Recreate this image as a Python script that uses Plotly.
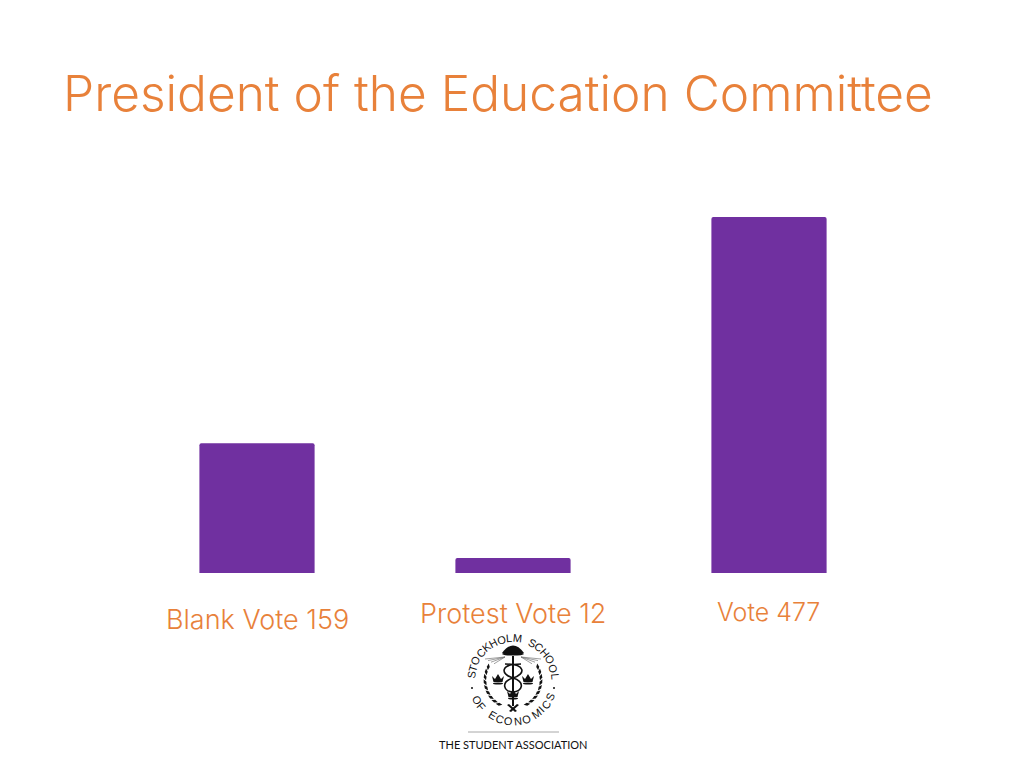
import math
import plotly.graph_objects as go

categories = ["Blank Vote 159", "Protest Vote 12", "Vote 477"]
# Bar lengths as drawn in the picture (they are not strictly proportional to the labels)
drawn_heights = [174, 20, 477]
label_y_px = [619, 613, 612]
label_x_px = [257, 513, 768]
label_sizes = [27, 27, 25]

ORANGE = "#E8813A"
PURPLE = "#7030A0"
FONT = "Inter"
W, H = 1024, 768


def px(x):
    return x / W


def py(y):
    return 1 - y / H


fig = go.Figure(go.Bar(
    x=categories, y=drawn_heights, width=0.45,
    marker=dict(color=PURPLE, cornerradius=2, line=dict(width=0)),
    hoverinfo="skip",
))

ann = [dict(text="President of the Education Committee", x=px(61), y=py(93), xref="paper", yref="paper",
            xanchor="left", yanchor="middle", showarrow=False,
            font=dict(family=FONT, size=49.6, weight=300, color=ORANGE))]
for c, lx, ly, ls in zip(categories, label_x_px, label_y_px, label_sizes):
    ann.append(dict(text=c, x=px(lx), y=py(ly), xref="paper", yref="paper", showarrow=False,
                    xanchor="center", yanchor="middle",
                    font=dict(family=FONT, size=ls, weight=300, color=ORANGE)))

# ---- logo ----
cx, cy = 513, 680
NARROW = {"I": 0.45, "M": 1.35, "O": 1.2, "C": 1.1, "H": 1.1, "N": 1.1, " ": 0.8, "L": 0.85, "F": 0.85, "E": 0.9, "T": 0.9}


def arc_text(text, start, end, radius, bottom=False):
    weights = [NARROW.get(ch, 1.0) for ch in text]
    total = sum(weights) - (weights[0] + weights[-1]) / 2
    run = 0.0
    for i, ch in enumerate(text):
        if i:
            run += (weights[i - 1] + weights[i]) / 2
        a = start + (end - start) * run / total
        r = math.radians(a)
        x = cx + radius * math.sin(r)
        y = cy - radius * math.cos(r)
        rot = a - 180 if bottom else a
        ann.append(dict(text=ch, x=px(x), y=py(y), xref="paper", yref="paper", showarrow=False,
                        textangle=rot, font=dict(family="Liberation Sans", size=11, color="#111"),
                        xanchor="center", yanchor="middle"))


arc_text("STOCKHOLM SCHOOL", -83, 85, 42)
arc_text("OF ECONOMICS", -119, -245, 41, bottom=True)
ann.append(dict(text="THE STUDENT ASSOCIATION", x=px(513), y=py(744), xref="paper", yref="paper",
                showarrow=False, xanchor="center", yanchor="middle",
                font=dict(family="Lato", size=11, color="#111")))

shapes = [dict(type="line", x0=px(468), x1=px(559), y0=py(732), y1=py(732), xref="paper", yref="paper",
               line=dict(color="#A8A8A8", width=1))]


def path(d, fill="#111", line=0):
    shapes.append(dict(type="path", path=d, xref="paper", yref="paper", fillcolor=fill,
                       line=dict(color="#111", width=line)))


def P(x, y):
    return f"{px(x):.5f},{py(y):.5f}"


def ell(x, y, rx, ry):
    shapes.append(dict(type="circle", xref="paper", yref="paper", x0=px(x - rx), x1=px(x + rx),
                       y0=py(y + ry), y1=py(y - ry), fillcolor="#111", line=dict(width=0)))


def leaf(x, y, ang, ln=3.4, wd=1.5):
    t = math.radians(ang)
    ux, uy = math.cos(t), math.sin(t)
    vx, vy = -uy, ux
    path(f"M{P(x - ln * ux, y - ln * uy)} L{P(x + wd * vx, y + wd * vy)} L{P(x + ln * ux, y + ln * uy)} L{P(x - wd * vx, y - wd * vy)} Z")


# dots on the ring
ell(472, 688, 1, 1)
ell(554, 688, 1, 1)
# dome
path(f"M{P(502, 653)} Q{P(513, 638)} {P(524, 653)} Z")
ell(513, 654, 11, 1.6)
# wing rays
for dx in (-1, 1):
    for k in range(4):
        shapes.append(dict(type="line", xref="paper", yref="paper",
                           x0=px(513 + dx * 8), y0=py(657),
                           x1=px(513 + dx * (28 - k * 3)), y1=py(659 + k * 1.6),
                           line=dict(color="#777", width=0.7)))
# wreath
for side in (-1, 1):
    for a in range(62, 160, 11):
        r = math.radians(a)
        x = cx + side * 28 * math.sin(r)
        y = cy - 28 * math.cos(r)
        leaf(x, y, side * a + (20 if side > 0 else -20))
# crowns
for x, y in ((498, 680), (528, 680), (513, 695)):
    path(f"M{P(x - 6, y - 4)} L{P(x - 3, y - 1)} L{P(x, y - 6)} L{P(x + 3, y - 1)} L{P(x + 6, y - 4)} L{P(x + 4.5, y + 2)} L{P(x - 4.5, y + 2)} Z")
    ell(x, y + 3.5, 5, 1.1)
# staff and serpents
shapes.append(dict(type="line", xref="paper", yref="paper", x0=px(513), x1=px(513), y0=py(656), y1=py(706),
                   line=dict(color="#111", width=2)))
shapes.append(dict(type="path", xref="paper", yref="paper",
                   path=f"M{P(521, 664)} C{P(500, 664)} {P(500, 674)} {P(513, 678)} C{P(526, 682)} {P(522, 692)} {P(513, 692)} C{P(504, 692)} {P(500, 682)} {P(513, 678)} C{P(526, 674)} {P(526, 664)} {P(505, 664)}",
                   line=dict(color="#111", width=1.6)))
# foot of the staff
path(f"M{P(509, 704)} L{P(517, 711)} L{P(515, 712)} L{P(507, 705)} Z")
path(f"M{P(517, 704)} L{P(509, 711)} L{P(511, 712)} L{P(519, 705)} Z")

fig.update_layout(
    width=W, height=H, margin=dict(l=0, r=0, t=0, b=0),
    paper_bgcolor="white", plot_bgcolor="white", showlegend=False,
    xaxis=dict(domain=[px(129), px(897)], range=[-0.5, 2.5], visible=False),
    yaxis=dict(domain=[py(573), py(217)], range=[0, 477], visible=False),
    annotations=ann, shapes=shapes,
)
fig.write_html("out.html", config=dict(displayModeBar=False),
               post_script="document.body.style.margin='0';")
